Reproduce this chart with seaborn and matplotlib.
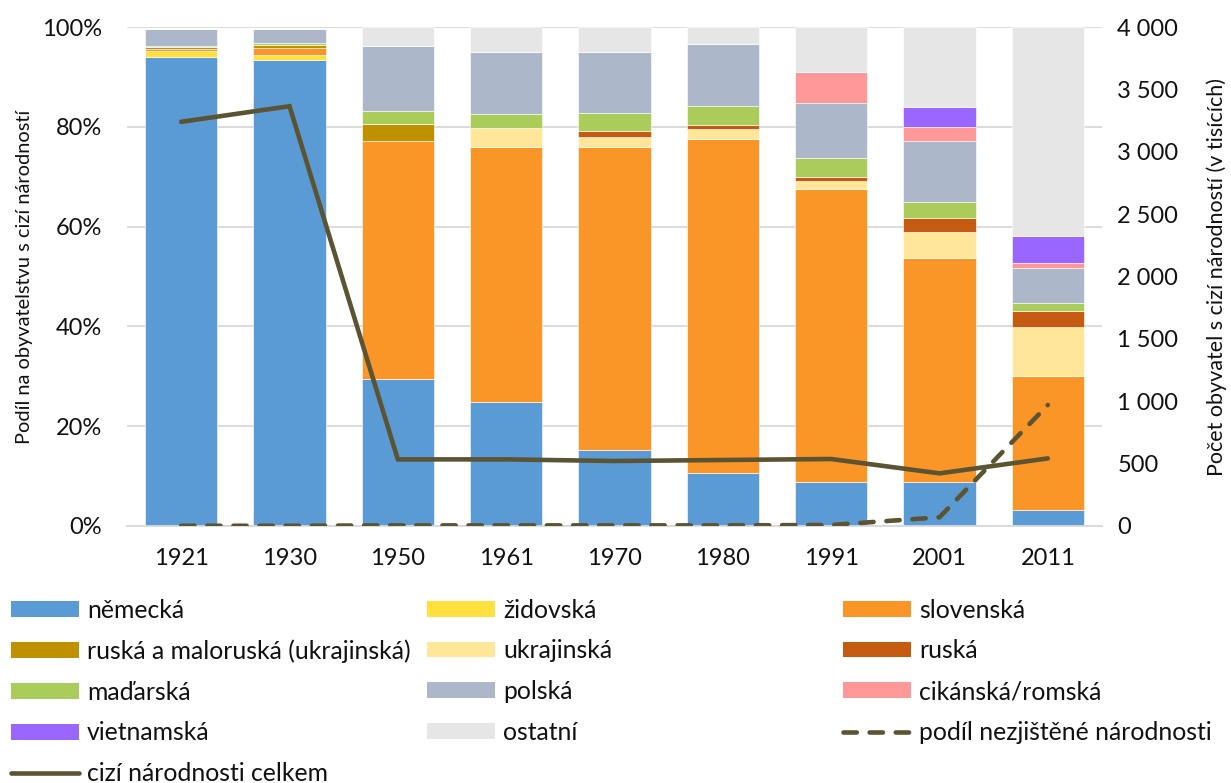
import numpy as np
import pandas as pd
import matplotlib
matplotlib.use("Agg")
import matplotlib.pyplot as plt
import seaborn as sns
from matplotlib.patches import Patch
from matplotlib.lines import Line2D
from matplotlib.ticker import FuncFormatter, MultipleLocator

years = ["1921", "1930", "1950", "1961", "1970", "1980", "1991", "2001", "2011"]
nemecka    = [94.0, 93.3, 29.4, 24.8, 15.2, 10.6, 8.9, 8.9, 3.2]
zidovska   = [1.1, 1.1, 0, 0, 0, 0, 0, 0, 0]
slovenska  = [0.4, 1.3, 47.8, 51.2, 60.8, 67.0, 58.6, 44.9, 26.9]
ruska_malo = [0.5, 0.7, 3.4, 0, 0, 0, 0, 0, 0]
ukrajinska = [0, 0, 0, 3.8, 2.0, 1.9, 1.6, 5.1, 9.7]
ruska      = [0, 0, 0, 0, 1.2, 0.9, 0.8, 2.9, 3.2]
madarska   = [0.2, 0.3, 2.5, 2.8, 3.5, 3.7, 3.8, 3.2, 1.6]
polska     = [3.4, 2.9, 13.1, 12.3, 12.2, 12.4, 11.0, 12.2, 7.2]
cikanska   = [0, 0, 0, 0, 0, 0, 6.2, 2.8, 1.0]
vietnamska = [0, 0, 0, 0, 0, 0, 0, 4.0, 5.4]
ostatni    = [0, 0, 3.8, 5.1, 5.1, 3.5, 9.1, 16.0, 41.8]
celkem     = [3240, 3365, 534, 534, 521, 529, 537, 422, 542]
nezjistene = [2, 2, 5, 5, 5, 5, 8, 70, 970]

series = [
    ("německá", nemecka, "#5B9BD5"),
    ("židovská", zidovska, "#FFE03C"),
    ("slovenská", slovenska, "#FA9628"),
    ("ruská a maloruská (ukrajinská)", ruska_malo, "#BF9000"),
    ("ukrajinská", ukrajinska, "#FFE699"),
    ("ruská", ruska, "#C55A11"),
    ("maďarská", madarska, "#A9CC5B"),
    ("polská", polska, "#ACB8CA"),
    ("cikánská/romská", cikanska, "#FF9999"),
    ("vietnamská", vietnamska, "#9966FF"),
    ("ostatní", ostatni, "#E6E6E6"),
]
line_color = "#5B5432"

sns.set_theme(style="white")
plt.rcParams["font.family"] = ["Lato", "DejaVu Sans"]
FS_TICK = 17
FS_LEG = 17.8
FS_YL = 14.4
FS_YR = 15.5
TXT = "#111111"

fig = plt.figure(figsize=(12.31, 7.83), dpi=100)
ax = fig.add_axes([127 / 1231, 1 - 526 / 783, 975 / 1231, 499 / 783])

bottom = np.zeros(len(years))
for name, vals, col in series:
    sns.barplot(x=years, y=vals, bottom=bottom, color=col, saturation=1,
                width=0.67, errorbar=None, ax=ax,
                edgecolor=(1, 1, 1, 0.6), linewidth=0.7)
    bottom = bottom + np.array(vals)

ax.set_ylim(0, 100)
ax.set_xlim(-0.5, len(years) - 0.5)
ax.yaxis.set_major_locator(MultipleLocator(20))
ax.yaxis.set_major_formatter(FuncFormatter(lambda v, p: f"{v:.0f}%"))
ax.yaxis.grid(True, color="#D9D9D9", linewidth=1.3)
ax.set_axisbelow(True)
for s in ["left", "right", "top"]:
    ax.spines[s].set_visible(False)
ax.spines["bottom"].set_color("#D9D9D9")
ax.spines["bottom"].set_linewidth(1.3)
ax.tick_params(axis="y", length=0, pad=18, labelsize=FS_TICK, colors=TXT)
ax.tick_params(axis="x", length=0, pad=16, labelsize=FS_TICK, colors=TXT)
ax.set_xlabel("")
ax.set_ylabel("Podíl na obyvatelstvu s cizí národností", fontsize=FS_YL, color=TXT)
ax.yaxis.set_label_coords(-(127 - 33) / 975, 0.5)

ax2 = ax.twinx()
pos = np.arange(len(years))
sns.lineplot(x=pos, y=nezjistene, ax=ax2, color=line_color, linewidth=3.3,
             linestyle="--")
sns.lineplot(x=pos, y=celkem, ax=ax2, color=line_color, linewidth=3.3)
lines = ax2.get_lines()
lines[0].set_dashes((2.9, 2.8))
lines[0].set_dash_capstyle("round")
lines[1].set_solid_capstyle("round")
lines[1].set_solid_joinstyle("miter")
ax2.set_ylim(0, 4000)
ax2.set_xlim(-0.5, len(years) - 0.5)
ax2.yaxis.set_major_locator(MultipleLocator(500))
ax2.yaxis.set_major_formatter(FuncFormatter(lambda v, p: f"{int(v):,}".replace(",", " ")))
for s in ["left", "right", "top", "bottom"]:
    ax2.spines[s].set_visible(False)
ax2.grid(False)
ax2.tick_params(axis="y", length=0, pad=11, labelsize=FS_TICK, colors=TXT)
ax2.set_ylabel("Počet obyvatel s cizí národností (v tisících)", fontsize=FS_YR, color=TXT)
ax2.yaxis.set_label_coords(1 + (1206 - 1102) / 975, 0.5)

# legend
handles = {name: Patch(facecolor=col, edgecolor="none") for name, vals, col in series}
handles["podíl nezjištěné národnosti"] = Line2D([], [], color=line_color, lw=3.3,
                                                dashes=(2.9, 2.8), dash_capstyle="round")
handles["cizí národnosti celkem"] = Line2D([], [], color=line_color, lw=3.3,
                                           solid_capstyle="round")
cols = [
    ["německá", "ruská a maloruská (ukrajinská)", "maďarská", "vietnamská", "cizí národnosti celkem"],
    ["židovská", "ukrajinská", "polská", "ostatní"],
    ["slovenská", "ruská", "cikánská/romská", "podíl nezjištěné národnosti"],
]
xs = [11, 427, 843]
fs_px = FS_LEG * 100 / 72
for x0, names in zip(xs, cols):
    leg = fig.legend([handles[n] for n in names], names, loc="upper left",
                     bbox_to_anchor=(x0 / 1231, 1 - 598.5 / 783), frameon=False,
                     fontsize=FS_LEG, handlelength=68 / fs_px, handleheight=15 / fs_px,
                     handletextpad=8 / fs_px, labelspacing=0.72, borderpad=0,
                     borderaxespad=0)
    for t in leg.get_texts():
        t.set_color(TXT)

fig.savefig("out.png", dpi=100)
